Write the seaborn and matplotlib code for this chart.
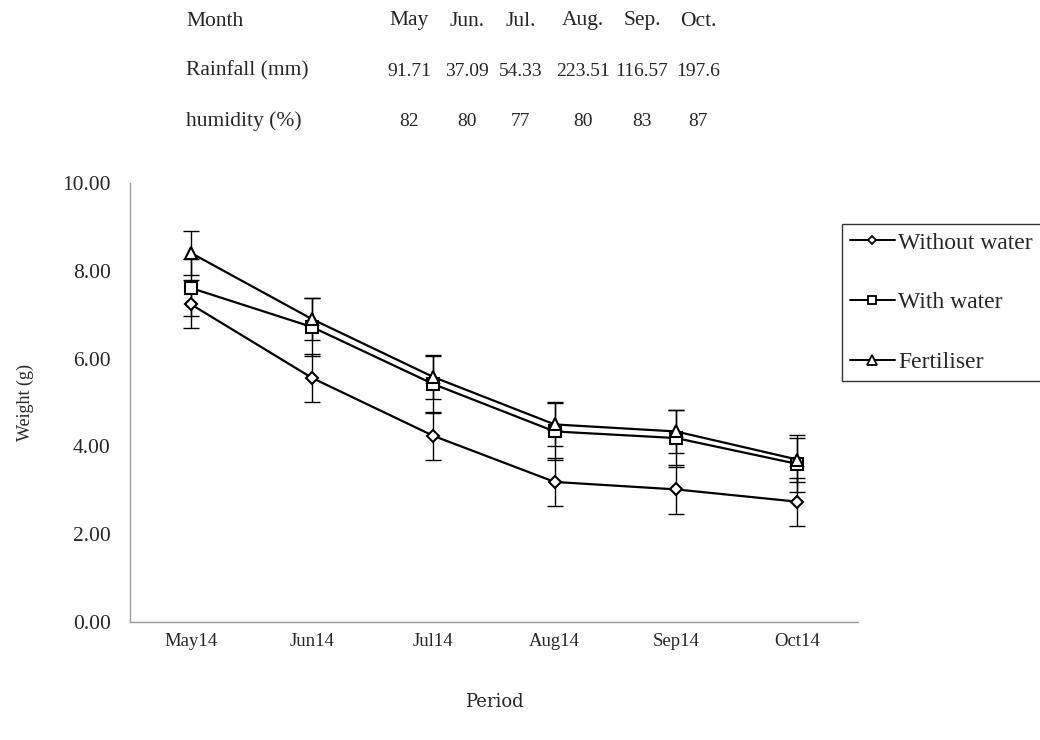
import numpy as np
import pandas as pd
import matplotlib
matplotlib.use("Agg")
import matplotlib.pyplot as plt
from matplotlib.lines import Line2D
import seaborn as sns

# ---- data ----
periods = ["May14", "Jun14", "Jul14", "Aug14", "Sep14", "Oct14"]
without_water = [7.24, 5.56, 4.24, 3.19, 3.02, 2.74]
with_water = [7.61, 6.72, 5.42, 4.34, 4.19, 3.60]
fertiliser = [8.41, 6.90, 5.58, 4.50, 4.34, 3.70]
err_without = [0.55, 0.55, 0.55, 0.55, 0.55, 0.55]
err_with = [0.65, 0.65, 0.65, 0.65, 0.65, 0.65]
err_fert = [0.50, 0.48, 0.50, 0.50, 0.50, 0.50]

months = ["May", "Jun.", "Jul.", "Aug.", "Sep.", "Oct."]
rainfall = ["91.71", "37.09", "54.33", "223.51", "116.57", "197.6"]
humidity = ["82", "80", "77", "80", "83", "87"]

series_names = ["Without water", "With water", "Fertiliser"]
series_vals = [without_water, with_water, fertiliser]
series_errs = [err_without, err_with, err_fert]

rows = []
for name, vals, errs in zip(series_names, series_vals, series_errs):
    for i, (p, v, e) in enumerate(zip(periods, vals, errs)):
        rows.append({"pos": i, "Period": p, "Weight": v, "err": e, "Treatment": name})
df = pd.DataFrame(rows)

# ---- style ----
sns.set_theme(style="white")
plt.rcParams["font.family"] = ["Liberation Serif", "DejaVu Serif"]

fig = plt.figure(figsize=(10.4, 7.4), dpi=100)
ax = fig.add_axes([0.125, 0.1595, 0.70, 0.5932])

marker_map = {"Without water": "D", "With water": "s", "Fertiliser": "^"}
size_map = {"Without water": 6.0, "With water": 8.5, "Fertiliser": 9.0}

# error bars first so lines/markers sit on top
for name in series_names:
    sub = df[df["Treatment"] == name]
    ax.errorbar(sub["pos"], sub["Weight"], yerr=sub["err"], fmt="none",
                ecolor="black", elinewidth=1.0, capsize=6, capthick=1.0, zorder=2)

n_before = len(ax.lines)
sns.lineplot(data=df, x="pos", y="Weight", hue="Treatment", style="Treatment",
             markers=marker_map, dashes=False, palette=["black"] * 3,
             linewidth=1.6, ax=ax, legend=False, zorder=3,
             markerfacecolor="white", markeredgecolor="black", markeredgewidth=1.5,
             markersize=8)

for line, name in zip(ax.lines[n_before:], series_names):
    line.set_markersize(size_map[name])

ax.set_xlim(-0.5, 5.5)
ax.set_ylim(0, 10)
yt = np.arange(0, 10.01, 2)
ax.set_yticks(yt)
ax.set_yticklabels([f"{v:.2f}" for v in yt], fontsize=15.5)
ax.set_xticks(range(len(periods)))
ax.set_xticklabels(periods, fontsize=13.5)
ax.tick_params(axis="x", length=0, pad=8)
ax.tick_params(axis="y", length=0, pad=14)

for s in ["top", "right"]:
    ax.spines[s].set_visible(False)
for s in ["left", "bottom"]:
    ax.spines[s].set_color("#9a9a9a")
    ax.spines[s].set_linewidth(1.0)

ax.set_ylabel("Weight (g)", fontsize=13, labelpad=20)
ax.set_xlabel("Period", fontsize=13, labelpad=31, family=["DejaVu Serif"])

# legend
handles = [Line2D([0], [0], color="black", lw=1.4, marker=marker_map[n],
                  markersize=size_map[n] * 0.75, markerfacecolor="white",
                  markeredgecolor="black", markeredgewidth=1.3)
           for n in series_names]
leg = fig.legend(handles, series_names, loc="upper left",
                 bbox_to_anchor=(0.8096, 0.697), frameon=True, fancybox=False,
                 edgecolor="black", fontsize=17, handlelength=1.9,
                 handletextpad=0.15, labelspacing=1.62, borderpad=0.33,
                 borderaxespad=0.0)
leg.get_frame().set_linewidth(1.0)

# climate table above the chart
row_y = [1 - 21 / 740, 1 - 71 / 740, 1 - 121 / 740]
col_x = [409 / 1040, 467 / 1040, 521 / 1040, 583 / 1040, 642 / 1040, 698 / 1040]
row_titles = ["Month", "Rainfall (mm)", "humidity (%)"]
row_sizes = [15.5, 14, 14]
for y, title, cells, fs in zip(row_y, row_titles, [months, rainfall, humidity], row_sizes):
    fig.text(186 / 1040, y, title, ha="left", va="center", fontsize=15.5)
    for x, c in zip(col_x, cells):
        fig.text(x, y, c, ha="center", va="center", fontsize=fs)

fig.savefig("out.png", dpi=100)
